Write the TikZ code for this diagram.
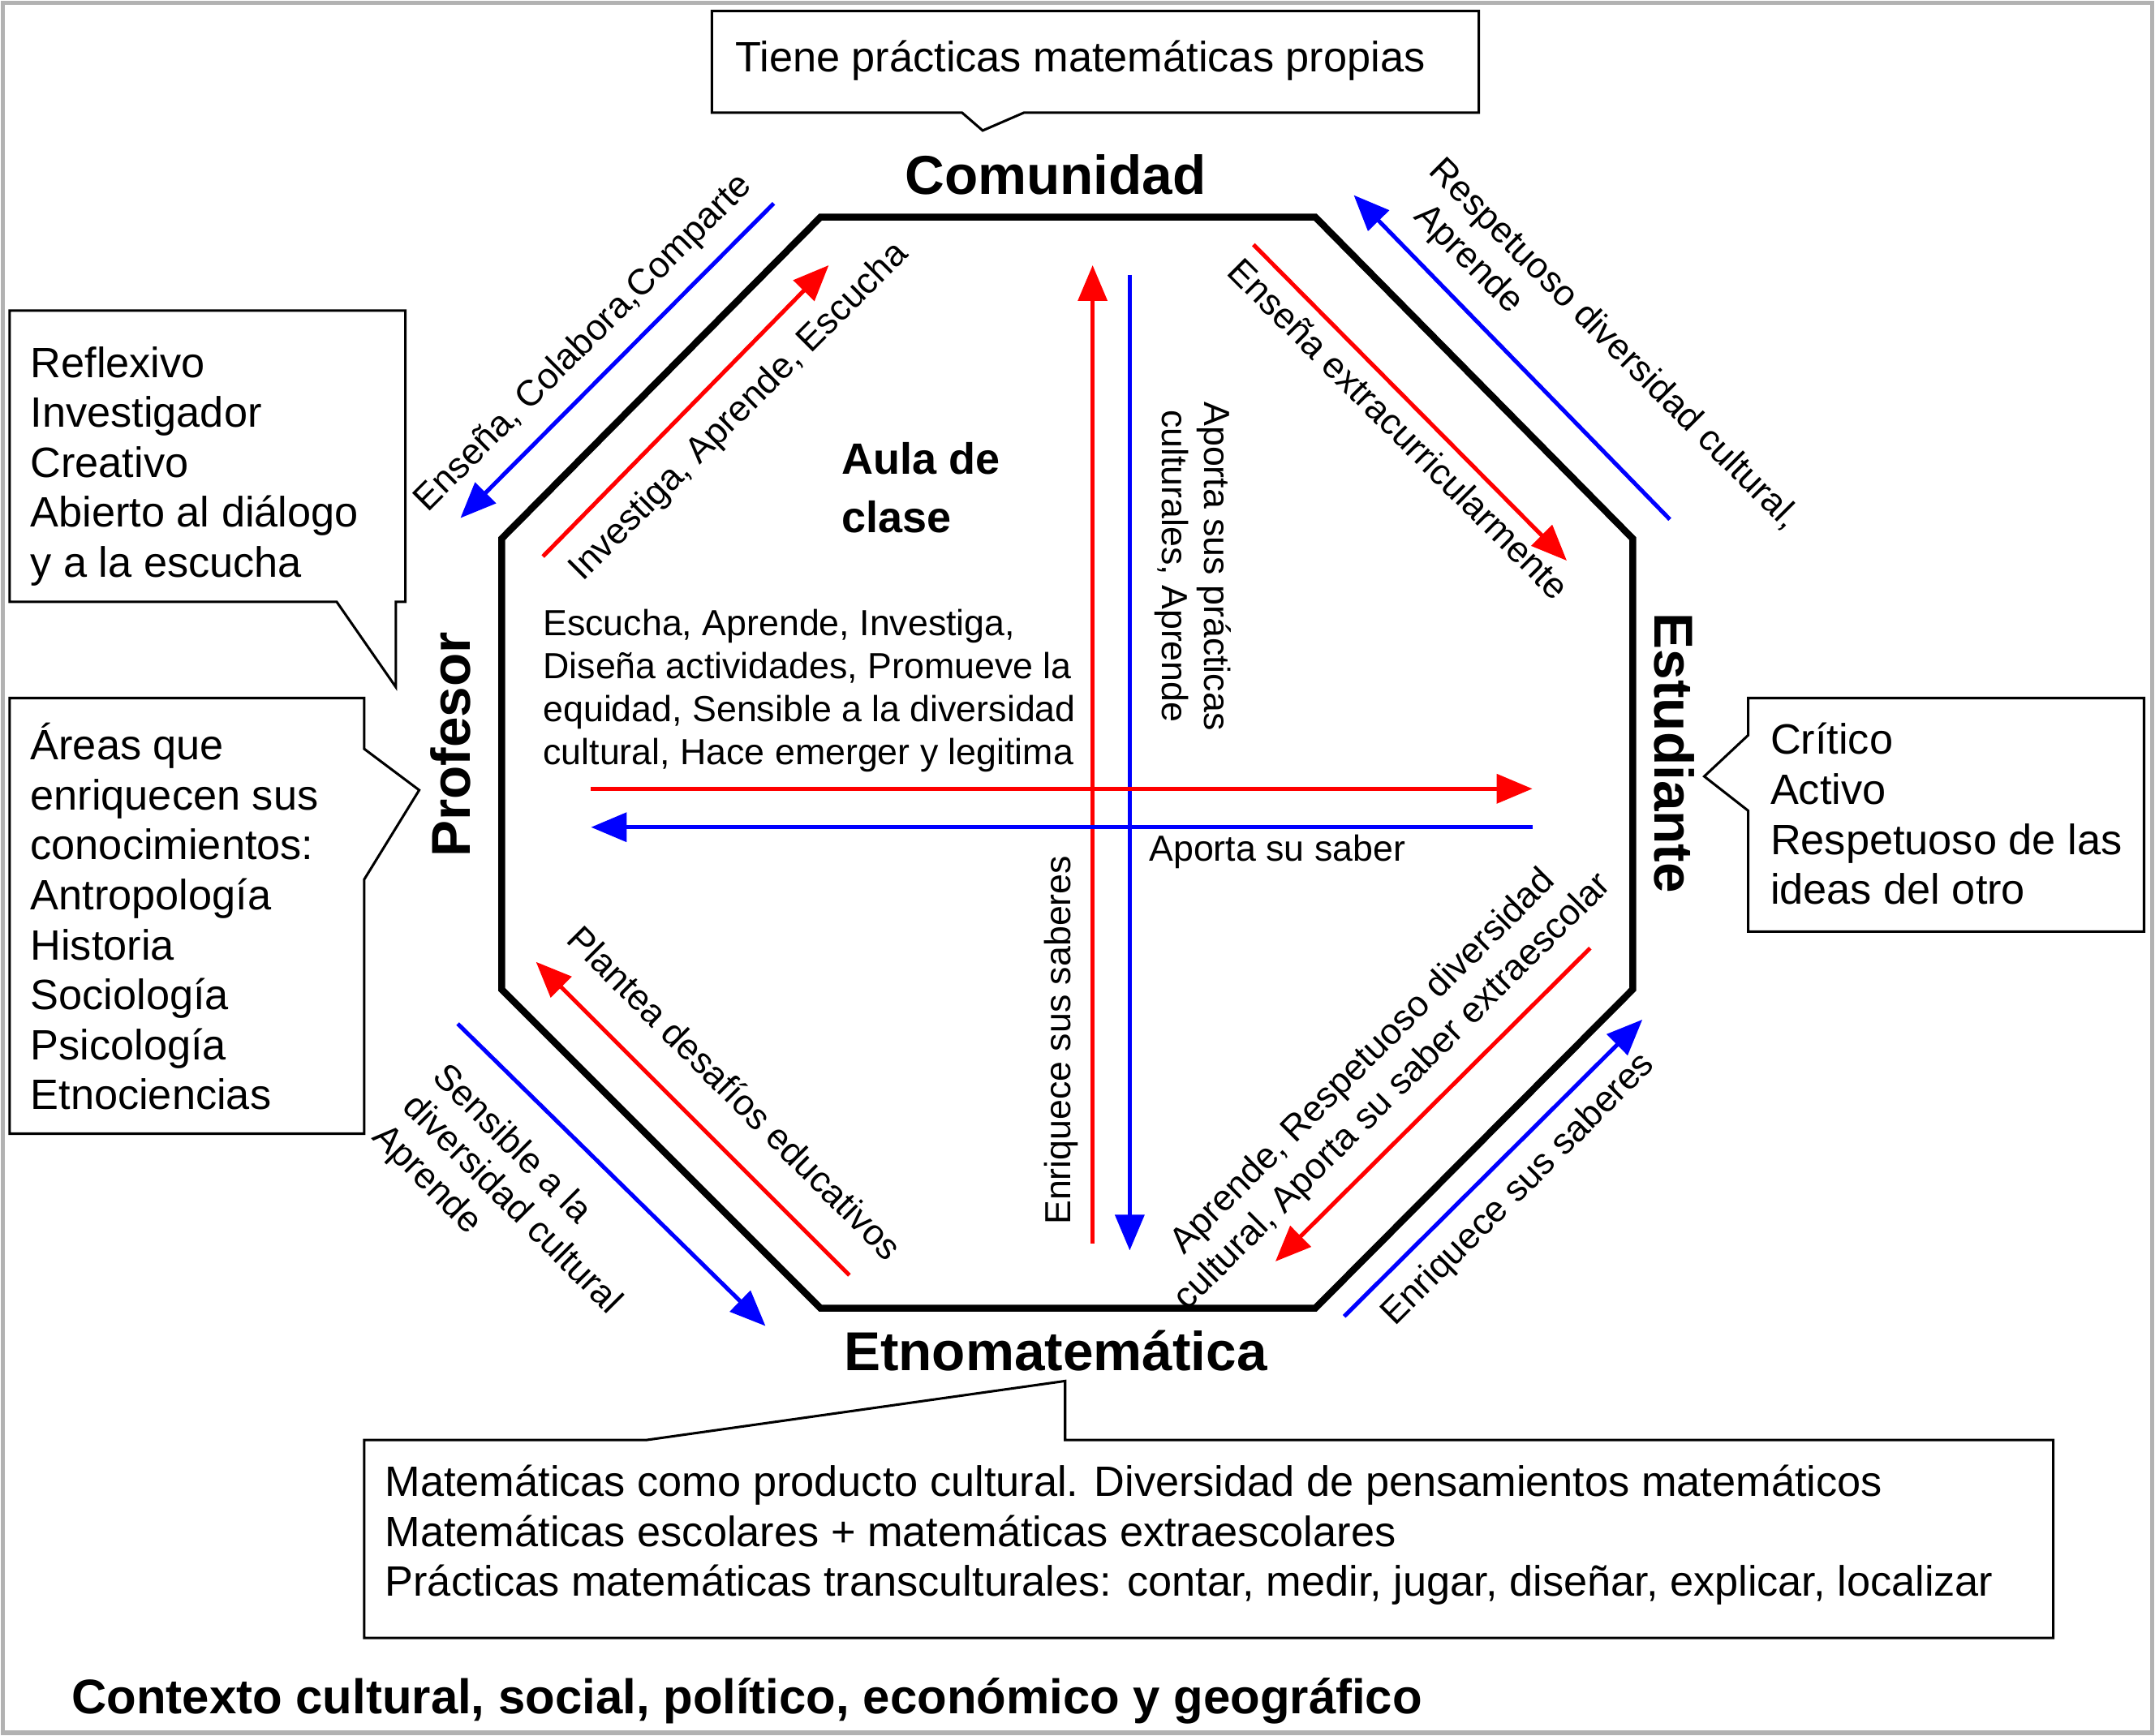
\documentclass[tikz,border=0pt]{standalone}
\usepackage{fontspec}
\setmainfont{Liberation Sans}
\usetikzlibrary{arrows.meta}
\begin{document}
\begin{tikzpicture}[x=1bp,y=-1bp,
 lbl/.style={font=\fontsize{26.5}{31}\selectfont,align=center,inner sep=0},
 big/.style={font=\fontsize{31}{36.5}\selectfont,align=left,inner sep=0},
 ttl/.style={font=\fontsize{40}{44}\selectfont\bfseries,inner sep=0},
 ra/.style={draw=red,line width=3bp,-{Triangle[length=26bp,width=21bp]}},
 ba/.style={draw=blue,line width=3bp,-{Triangle[length=26bp,width=21bp]}},
 call/.style={draw=black,line width=1.8bp,fill=white}]
\useasboundingbox (0,0) rectangle (1568,1263);
\draw[gray!60,line width=3bp] (2,2) rectangle (1566,1261);
% octagon
\draw[line width=5bp,line join=miter] (597,158)--(957,158)--(1188,392)--(1188,720)--(957,952)--(597,952)--(365,720)--(365,392)--cycle;
\node[ttl] (com) at (768,127) {Comunidad};
\node[ttl] (etn) at (768,983) {Etnomatemática};
\node[ttl,rotate=90] (pro) at (328,542) {Profesor};
\node[ttl,rotate=-90] (est) at (1218,548) {Estudiante};
\node[ttl,align=left,font=\fontsize{32}{43}\selectfont\bfseries] (aula) at (670,355) {Aula de\\clase};
% callouts
\draw[call] (518,8)--(1076,8)--(1076,82)--(745,82)--(715,95)--(700,82)--(518,82)--cycle;
\node[big] (t1) at (786,44) {Tiene prácticas matemáticas propias};
\draw[call] (7,226)--(295,226)--(295,438)--(288,438)--(288,500)--(245,438)--(7,438)--cycle;
\node[big,anchor=north west] (t2) at (22,252) {Reflexivo\\Investigador\\Creativo\\Abierto al diálogo\\y a la escucha};
\draw[call] (7,508)--(265,508)--(265,545)--(305,575)--(265,640)--(265,825)--(7,825)--cycle;
\node[big,anchor=north west] (t3) at (22,526) {Áreas que\\enriquecen sus\\conocimientos:\\Antropología\\Historia\\Sociología\\Psicología\\Etnociencias};
\draw[call] (1272,508)--(1560,508)--(1560,678)--(1272,678)--(1272,590)--(1240,565)--(1272,535)--cycle;
\node[big,anchor=north west] (t4) at (1288,526) {Crítico\\Activo\\Respetuoso de las\\ideas del otro};
\draw[call] (265,1048)--(470,1048)--(775,1005)--(775,1048)--(1494,1048)--(1494,1192)--(265,1192)--cycle;
\node[big,anchor=north west] (t5) at (280,1066) {Matemáticas como producto cultural. Diversidad de pensamientos matemáticos\\Matemáticas escolares + matemáticas extraescolares\\Prácticas matemáticas transculturales: contar, medir, jugar, diseñar, explicar, localizar};
\node[anchor=west,font=\fontsize{35.5}{38}\selectfont\bfseries,inner sep=0] (ctx) at (52,1238) {Contexto cultural, social, político, económico y geográfico};
% arrow endpoints
\foreach \n/\x/\y in {a1/563/148,a2/335/377,b1/395/405,b2/603/193,c1/795/905,c2/795/193,d1/822/200,d2/822/910,
 e1/912/178,e2/1140/408,f1/1215/378,f2/985/142,g1/430/574,g2/1115/574,h1/1115/602,h2/430/602,
 i1/618/928,i2/390/700,j1/333/745,j2/557/965,k1/1157/690,k2/928/918,l1/978/958,l2/1195/742}
 \coordinate (\n) at (\x,\y);
\draw[ba] (a1)--(a2); \draw[ra] (b1)--(b2);
\draw[ra] (c1)--(c2); \draw[ba] (d1)--(d2);
\draw[ra] (e1)--(e2); \draw[ba] (f1)--(f2);
\draw[ra] (g1)--(g2); \draw[ba] (h1)--(h2);
\draw[ra] (i1)--(i2); \draw[ba] (j1)--(j2);
\draw[ra] (k1)--(k2); \draw[ba] (l1)--(l2);
% labels
\node[lbl,rotate=45] (la) at (425,250) {Enseña, Colabora,Comparte};
\node[lbl,rotate=45] (lb) at (538,300) {Investiga, Aprende, Escucha};
\node[lbl,rotate=90] (lc) at (772,757) {Enriquece sus saberes};
\node[lbl,rotate=-90] (ld) at (868,412) {Aporta sus prácticas\\culturales, Aprende};
\node[lbl,rotate=-45] (le) at (1018,312) {Enseña extracurricularmente};
\node[lbl,rotate=-45] (lf) at (1163,262) {Respetuoso diversidad cultural,\\Aprende\hspace*{9em}};
\node[lbl,anchor=west] (lg) at (836,620) {Aporta su saber};
\node[lbl,align=left,anchor=north west,font=\fontsize{26.5}{31.5}\selectfont] (lt) at (395,443) {Escucha, Aprende, Investiga,\\Diseña actividades, Promueve la\\equidad, Sensible a la diversidad\\cultural, Hace emerger y legitima};
\node[lbl,rotate=-45] (li) at (535,795) {Plantea desafíos educativos};
\node[lbl,rotate=-45,align=left] (lj) at (372,877) {Sensible a la\\diversidad cultural\\Aprende};
\node[lbl,rotate=45] (lk) at (1003,784) {Aprende, Respetuoso diversidad\\cultural, Aporta su saber extraescolar};
\node[lbl,rotate=45] (ll) at (1105,866) {Enriquece sus saberes};
\end{tikzpicture}
\end{document}
